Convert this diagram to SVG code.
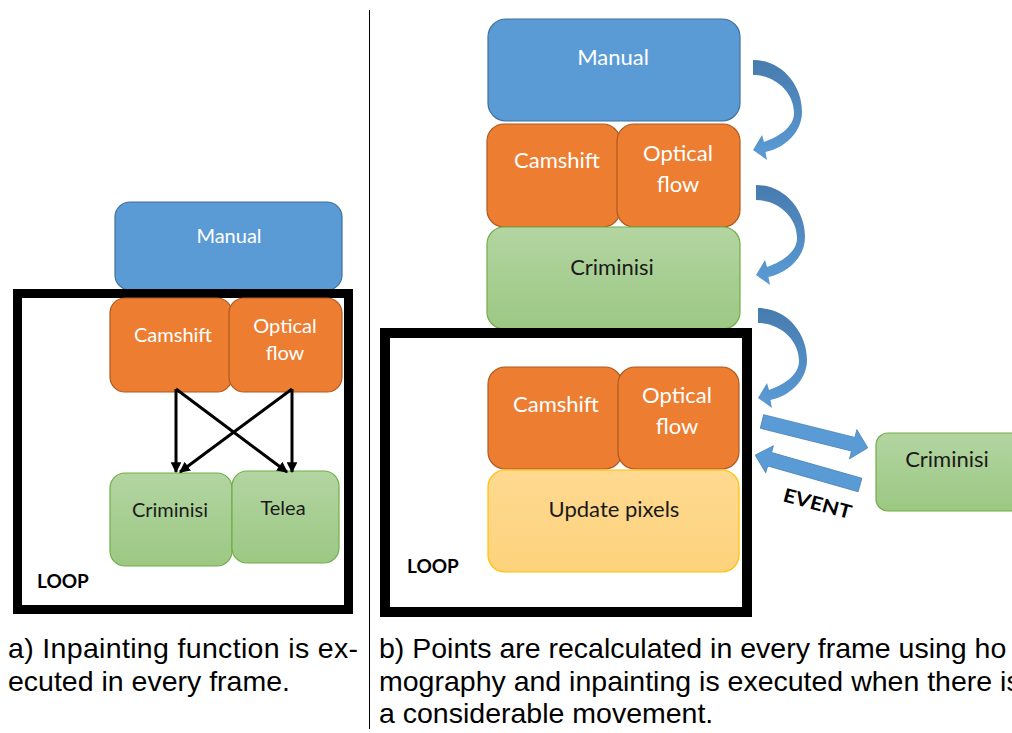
<svg xmlns="http://www.w3.org/2000/svg" width="1012" height="733" viewBox="0 0 1012 733">
<style>
  .blue { fill: #5b9bd5; stroke: #41719c; stroke-width: 1.2; }
  .orange { fill: #ed7d31; stroke: #ae5a21; stroke-width: 1.2; }
  .green { fill: url(#gGreen); stroke: #70ad47; stroke-width: 1.2; }
  .yellow { fill: url(#gYellow); stroke: #ffc000; stroke-width: 1.2; }
  .loop { fill: none; stroke: #000; }
  .lw { font-family: Lato, "Open Sans", sans-serif; fill: #fff; text-anchor: middle; }
  .lb { font-family: Lato, "Open Sans", sans-serif; fill: #1a1a1a; text-anchor: middle; }
  .loopt { font-family: Lato, "Open Sans", sans-serif; font-weight: bold; fill: #000; font-size: 19px; }
  .cap { font-family: "Liberation Sans", Arial, sans-serif; font-size: 28.5px; fill: #000; }
  .conn { stroke: #000; stroke-width: 3; fill: none; marker-end: url(#ah); }
  .curved { fill: url(#gCurve); }
  .block { fill: #5b9bd5; stroke: #4a84bb; stroke-width: 0.8; }
</style>
<defs>
  <linearGradient id="gGreen" x1="0" y1="0" x2="0" y2="1">
    <stop offset="0" stop-color="#b3d5a2"/>
    <stop offset="1" stop-color="#9cc883"/>
  </linearGradient>
  <linearGradient id="gYellow" x1="0" y1="0" x2="0" y2="1">
    <stop offset="0" stop-color="#fed990"/>
    <stop offset="1" stop-color="#fdd27c"/>
  </linearGradient>
  <linearGradient id="gCurve" x1="0" y1="0" x2="0" y2="1">
    <stop offset="0" stop-color="#477bae"/>
    <stop offset="1" stop-color="#5b9bd5"/>
  </linearGradient>
  <marker id="ah" viewBox="0 0 10 10" refX="9" refY="5" markerWidth="3.6" markerHeight="3.6" orient="auto" markerUnits="strokeWidth">
    <path d="M0,0 L10,5 L0,10 Z" fill="#000"/>
  </marker>
  <path id="curveArrow" d="M0,0 C28,0 49,24 49,52 C49,72 32,88 12.5,92 L14,100 L0,90 L9,75 L11,82 C28,76 41,66 41,53 C41,32 22,15 0,15 Z"/>
</defs>

<rect width="1012" height="733" fill="#fff"/>

<!-- divider -->
<line x1="369.5" y1="10" x2="369.5" y2="729" stroke="#000" stroke-width="1"/>

<!-- ===== Left diagram (a) ===== -->
<g id="a-manual">
  <rect class="blue" x="115" y="202" width="227" height="88" rx="15"/>
  <text class="lw" x="229" y="243" font-size="20">Manual</text>
</g>
<g id="a-loop">
  <rect class="loop" x="17.5" y="293.5" width="331" height="316" stroke-width="9"/>
  <text class="loopt" x="37" y="588">LOOP</text>
</g>
<g id="a-camshift">
  <rect class="orange" x="110" y="298" width="122" height="94" rx="15"/>
  <text class="lw" x="173" y="342" font-size="20">Camshift</text>
</g>
<g id="a-optical">
  <rect class="orange" x="229" y="298" width="113" height="94" rx="15"/>
  <text class="lw" x="285" y="333" font-size="20">Optical</text>
  <text class="lw" x="285" y="360" font-size="20">flow</text>
</g>
<g id="a-criminisi">
  <rect class="green" x="110" y="473" width="122" height="93" rx="15"/>
  <text class="lb" x="170" y="517" font-size="20">Criminisi</text>
</g>
<g id="a-telea">
  <rect class="green" x="232" y="471" width="107" height="92" rx="15"/>
  <text class="lb" x="283" y="515" font-size="20">Telea</text>
</g>
<g id="a-connectors">
  <line class="conn" x1="176" y1="389" x2="176" y2="472"/>
  <line class="conn" x1="292" y1="389" x2="292" y2="472"/>
  <line class="conn" x1="176" y1="389" x2="287" y2="472"/>
  <line class="conn" x1="292" y1="389" x2="180" y2="472"/>
</g>

<!-- ===== Right diagram (b) ===== -->
<g id="b-manual">
  <rect class="blue" x="488" y="19" width="252" height="102" rx="18"/>
  <text class="lw" x="613" y="65" font-size="22">Manual</text>
</g>
<g id="b-camshift1">
  <rect class="orange" x="487" y="124" width="133" height="103" rx="17"/>
  <text class="lw" x="557" y="168" font-size="22">Camshift</text>
</g>
<g id="b-optical1">
  <rect class="orange" x="617" y="124" width="123" height="103" rx="17"/>
  <text class="lw" x="678" y="161" font-size="22">Optical</text>
  <text class="lw" x="678" y="192" font-size="22">flow</text>
</g>
<g id="b-criminisi1">
  <rect class="green" x="487" y="227" width="253" height="102" rx="17"/>
  <text class="lb" x="612" y="275" font-size="22">Criminisi</text>
</g>
<g id="b-loop">
  <rect class="loop" x="385" y="333" width="362" height="279" stroke-width="10"/>
  <text class="loopt" x="407" y="573">LOOP</text>
</g>
<g id="b-camshift2">
  <rect class="orange" x="488" y="367" width="134" height="102" rx="17"/>
  <text class="lw" x="556" y="412" font-size="22">Camshift</text>
</g>
<g id="b-optical2">
  <rect class="orange" x="618" y="367" width="121" height="102" rx="17"/>
  <text class="lw" x="677" y="403" font-size="22">Optical</text>
  <text class="lw" x="677" y="434" font-size="22">flow</text>
</g>
<g id="b-update">
  <rect class="yellow" x="488" y="470" width="251" height="102" rx="17"/>
  <text class="lb" x="614" y="517" font-size="22">Update pixels</text>
</g>
<g id="b-criminisi2">
  <rect class="green" x="876" y="433" width="150" height="78" rx="12"/>
  <text class="lb" x="947" y="467" font-size="22">Criminisi</text>
</g>

<g id="b-connectors">
  <use href="#curveArrow" class="curved" transform="translate(753,60)"/>
  <use href="#curveArrow" class="curved" transform="translate(756,185)"/>
  <use href="#curveArrow" class="curved" transform="translate(758,308)"/>
  <path class="block" transform="translate(762,421.5) rotate(14)" d="M0,-7 L94,-7 L94,-15 L109,0 L94,15 L94,7 L0,7 Z"/>
  <path class="block" transform="translate(860,485) rotate(195.9)" d="M0,-7 L94,-7 L94,-14 L109,0 L94,14 L94,7 L0,7 Z"/>
  <text class="loopt" transform="translate(782,501) rotate(15)" textLength="70" lengthAdjust="spacingAndGlyphs">EVENT</text>
</g>

<!-- captions -->
<g id="captions">
  <text class="cap" x="8" y="658" textLength="350">a) Inpainting function is ex-</text>
  <text class="cap" x="8" y="690.5">ecuted in every frame.</text>
  <text class="cap" x="379" y="658">b) Points are recalculated in every frame using ho</text>
  <text class="cap" x="379" y="690.5">mography and inpainting is executed when there is</text>
  <text class="cap" x="379" y="723">a considerable movement.</text>
</g>
</svg>
